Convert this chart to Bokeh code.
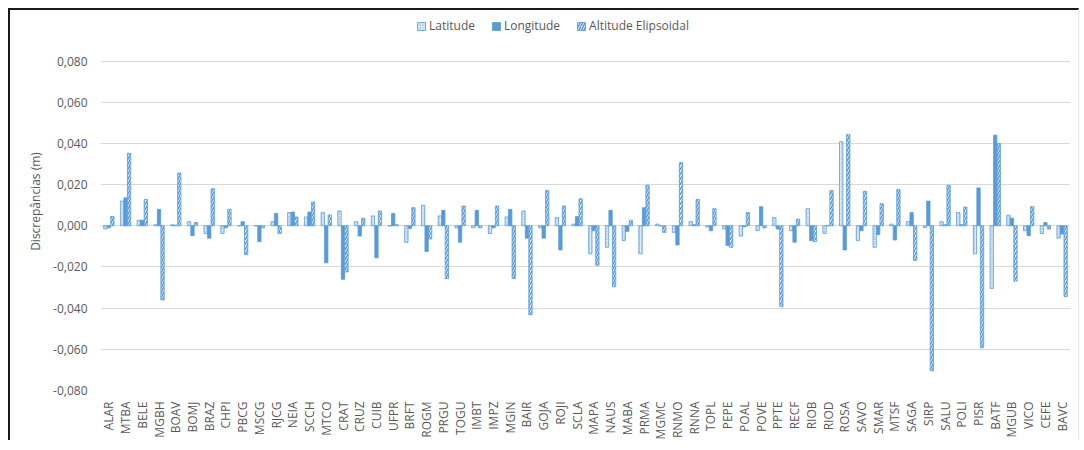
from bokeh.plotting import figure
from bokeh.models import (ColumnDataSource, FixedTicker, CustomJSTickFormatter,
                          Legend, LegendItem)
from bokeh.transform import dodge
from bokeh.embed import file_html
from bokeh.resources import INLINE
import math

stations = ["ALAR", "MTBA", "BELE", "MGBH", "BOAV", "BOMJ", "BRAZ", "CHPI", "PBCG", "MSCG",
            "RJCG", "NEIA", "SCCH", "MTCO", "CRAT", "CRUZ", "CUIB", "UFPR", "BRFT", "ROGM",
            "PRGU", "TOGU", "IMBT", "IMPZ", "MGIN", "BAIR", "GOJA", "ROJI", "SCLA", "MAPA",
            "NAUS", "MABA", "PRMA", "MGMC", "RNMO", "RNNA", "TOPL", "PEPE", "POAL", "POVE",
            "PPTE", "RECF", "RIOB", "RIOD", "ROSA", "SAVO", "SMAR", "MTSF", "SAGA", "SIRP",
            "SALU", "POLI", "PISR", "BATF", "MGUB", "VICO", "CEFE", "BAVC"]

latitude = [-0.0015, 0.0120, 0.0027, 0.0005, 0.0005, 0.0020, -0.0037, -0.0037, 0.0000, 0.0000,
            0.0020, 0.0064, 0.0043, 0.0064, 0.0072, 0.0020, 0.0048, 0.0000, -0.0080, 0.0100,
            0.0048, -0.0010, -0.0010, -0.0037, 0.0043, 0.0072, -0.0010, 0.0040, 0.0008, -0.0136,
            -0.0104, -0.0072, -0.0136, 0.0008, -0.0032, 0.0020, -0.0005, -0.0015, -0.0050, -0.0024,
            0.0040, -0.0024, 0.0083, -0.0037, 0.0408, -0.0072, -0.0104, 0.0008, 0.0020, -0.0008,
            0.0020, 0.0064, -0.0136, -0.0304, 0.0051, -0.0024, -0.0037, -0.0060]

longitude = [-0.0010, 0.0136, 0.0027, 0.0080, 0.0003, -0.0048, -0.0060, -0.0010, 0.0020, -0.0077,
             0.0060, 0.0067, 0.0067, -0.0180, -0.0260, -0.0050, -0.0155, 0.0060, -0.0013, -0.0125,
             0.0075, -0.0080, 0.0075, -0.0010, 0.0080, -0.0060, -0.0060, -0.0117, 0.0045, -0.0024,
             0.0075, -0.0027, 0.0088, 0.0000, -0.0093, 0.0005, -0.0024, -0.0096, -0.0005, 0.0093,
             -0.0016, -0.0080, -0.0072, 0.0000, -0.0117, -0.0024, -0.0043, -0.0069, 0.0064, 0.0120,
             0.0005, 0.0005, 0.0184, 0.0440, 0.0037, -0.0048, 0.0016, -0.0040]

altitude = [0.0045, 0.0352, 0.0128, -0.0360, 0.0256, 0.0016, 0.0180, 0.0080, -0.0140, -0.0010,
            -0.0037, 0.0043, 0.0115, 0.0053, -0.0224, 0.0037, 0.0072, 0.0005, 0.0088, -0.0064,
            -0.0256, 0.0096, -0.0010, 0.0096, -0.0256, -0.0432, 0.0171, 0.0096, 0.0131, -0.0192,
            -0.0296, 0.0027, 0.0197, -0.0032, 0.0307, 0.0128, 0.0083, -0.0104, 0.0064, -0.0010,
            -0.0392, 0.0032, -0.0077, 0.0171, 0.0443, 0.0168, 0.0107, 0.0176, -0.0168, -0.0704,
            0.0197, 0.0091, -0.0592, 0.0400, -0.0269, 0.0093, -0.0016, -0.0344]

y_ticks = [-0.08, -0.06, -0.04, -0.02, 0.0, 0.02, 0.04, 0.06, 0.08]

source = ColumnDataSource(data=dict(station=stations, lat=latitude, lon=longitude, alt=altitude))

BLUE = "#5B9BD5"
FONT = "Open Sans"
GREY = "#595959"

# the frame reaches above the 0,080 gridline so that the legend can sit inside it
p = figure(x_range=stations, y_range=(-0.08, 0.1036), width=1071, height=432,
           output_backend="svg", toolbar_location=None,
           min_border_left=90, min_border_right=11, min_border_top=2, min_border_bottom=47)
p.styles = {"transform": "translate(8px, 8px)",
            "border-top": "2px solid #1a1a1a", "border-left": "2px solid #1a1a1a",
            "border-right": "1px solid #e6e6e6"}
p.outline_line_color = None
p.background_fill_color = "white"
p.border_fill_color = "white"

r_lat = p.vbar(x=dodge("station", -0.21, range=p.x_range), top="lat", bottom=0, width=0.2,
               source=source, fill_color="#E3EEF8", line_color=BLUE, line_width=0.8,
               hatch_pattern="dot", hatch_color=BLUE, hatch_scale=2.5, hatch_weight=1.0)
r_lon = p.vbar(x=dodge("station", 0.0, range=p.x_range), top="lon", bottom=0, width=0.2,
               source=source, fill_color=BLUE, line_color=BLUE, line_width=0.8)
r_alt = p.vbar(x=dodge("station", 0.21, range=p.x_range), top="alt", bottom=0, width=0.2,
               source=source, fill_color="white", line_color=BLUE, line_width=0.8,
               hatch_pattern="right_diagonal_line", hatch_color=BLUE, hatch_scale=5,
               hatch_weight=1.6)

# axes
p.yaxis.ticker = FixedTicker(ticks=y_ticks)
p.yaxis.formatter = CustomJSTickFormatter(code="""
    var v = Math.abs(tick) < 1e-9 ? 0 : tick;
    return v.toFixed(3).replace('.', ',');
""")
p.yaxis.axis_label = "Discrepâncias (m)"
p.yaxis.axis_label_text_font = FONT
p.yaxis.axis_label_text_font_style = "normal"
p.yaxis.axis_label_text_font_size = "12px"
p.yaxis.axis_label_text_color = GREY
p.yaxis.axis_label_standoff = 6
p.yaxis.major_label_text_font = FONT
p.yaxis.major_label_text_font_size = "12px"
p.yaxis.major_label_text_color = GREY
p.yaxis.major_label_standoff = 7
p.yaxis.axis_line_color = None
p.yaxis.major_tick_line_color = None
p.yaxis.minor_tick_line_color = None

p.xaxis.major_label_orientation = math.pi / 2
p.xaxis.major_label_text_font = FONT
p.xaxis.major_label_text_font_size = "12px"
p.xaxis.major_label_text_color = GREY
p.xaxis.major_label_standoff = 5
p.xaxis.axis_line_color = None
p.xaxis.major_tick_line_color = None
p.xaxis.minor_tick_line_color = None

p.xgrid.grid_line_color = None
p.ygrid.grid_line_color = "#D9D9D9"
p.ygrid.grid_line_width = 1

legend = Legend(items=[LegendItem(label="Latitude", renderers=[r_lat]),
                       LegendItem(label="Longitude", renderers=[r_lon]),
                       LegendItem(label="Altitude Elipsoidal", renderers=[r_alt])],
                orientation="horizontal", location=(316, 356),
                label_text_font=FONT, label_text_font_size="12px", label_text_color=GREY,
                glyph_width=10, glyph_height=10, label_standoff=3, spacing=16,
                padding=2, margin=0, border_line_color=None, background_fill_alpha=0)
p.add_layout(legend, "center")

open("out.html", "w").write(file_html(p, INLINE))
